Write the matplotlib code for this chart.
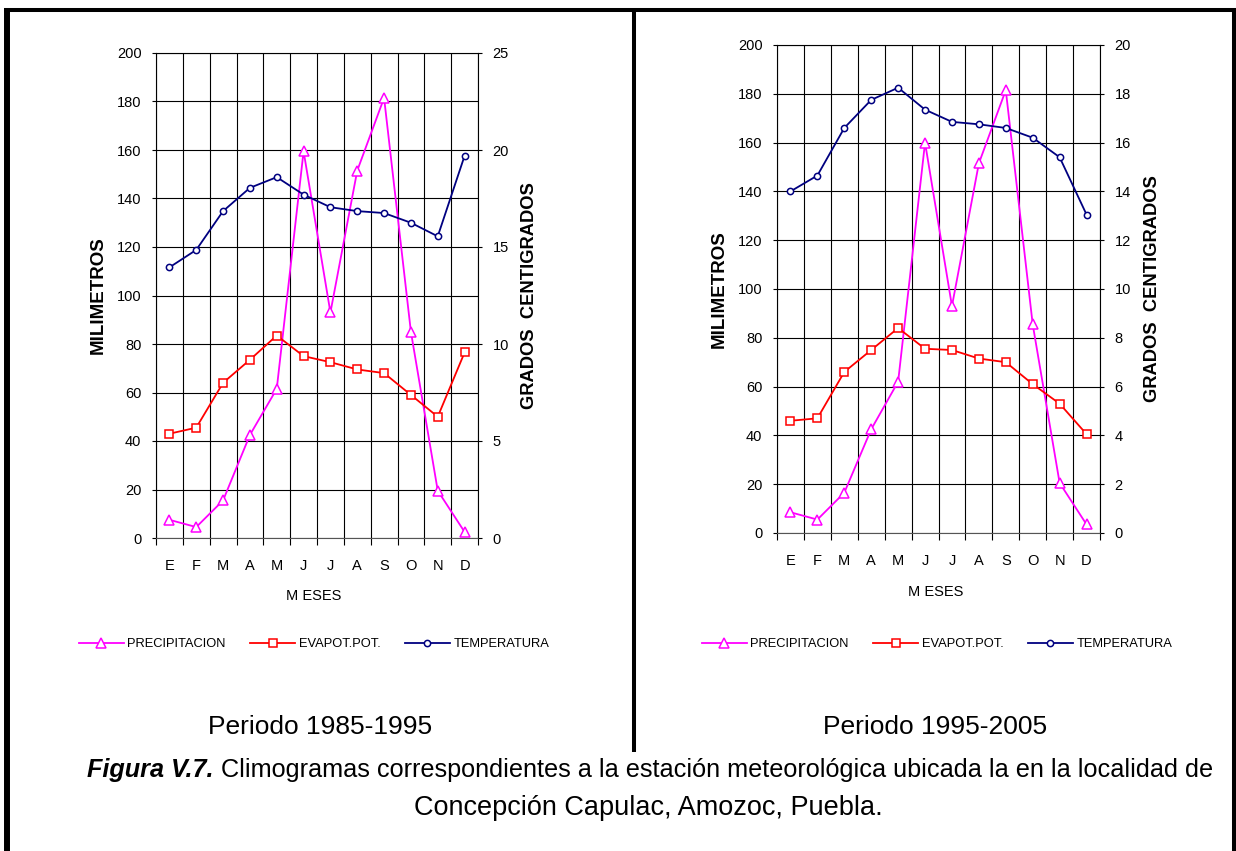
import matplotlib
matplotlib.use('Agg')
import matplotlib.pyplot as plt
from matplotlib.lines import Line2D
import numpy as np

plt.rcParams['font.family'] = ['Liberation Sans', 'DejaVu Sans']

# datos
meses = ['E', 'F', 'M', 'A', 'M', 'J', 'J', 'A', 'S', 'O', 'N', 'D']

# periodo 1985-1995
prec_1 = [7.5, 4.5, 15.5, 42.5, 61.5, 159.5, 93, 151.5, 181.5, 85, 19.5, 2.5]
evap_1 = [43, 45.5, 64, 73.5, 83.5, 75, 72.5, 69.5, 68, 59, 50, 76.5]
temp_1 = [13.95, 14.85, 16.85, 18.05, 18.6, 17.7, 17.05, 16.85, 16.75, 16.25, 15.55, 19.7]

# periodo 1995-2005
prec_2 = [8.5, 5.5, 16.5, 42.5, 62, 160, 93, 151.5, 181.5, 85.5, 20.5, 3.5]
evap_2 = [46, 47, 66, 75, 84, 75.5, 75, 71.5, 70, 61, 53, 40.5]
temp_2 = [14.0, 14.65, 16.6, 17.75, 18.25, 17.35, 16.85, 16.75, 16.6, 16.2, 15.4, 13.05]

series = ['PRECIPITACION', 'EVAPOT.POT.', 'TEMPERATURA']
colores = ['#FF00FF', '#FF0000', '#000080']

W, H = 1236, 851
fig = plt.figure(figsize=(W / 100, H / 100), dpi=100)


def climograma(rect, prec, evap, temp, tmax, tstep, leg_x):
    ax = fig.add_axes(rect)
    x = np.arange(len(meses))
    h1, = ax.plot(x, prec, color=colores[0], marker='^', ms=6.5, mfc='white', mew=1.1, lw=1.3, zorder=4)
    h2, = ax.plot(x, evap, color=colores[1], marker='s', ms=5.5, mfc='white', mew=1.1, lw=1.3, zorder=4)
    ax.set_xlim(-0.5, len(meses) - 0.5)
    ax.set_ylim(0, 200)
    ax.set_yticks(range(0, 201, 20))
    ax.set_xticks(x)
    ax.set_xticklabels(meses)
    ax.set_xticks(np.arange(-0.5, len(meses), 1), minor=True)
    ax.grid(True, which='minor', axis='x', color='k', lw=0.8)
    ax.grid(True, which='major', axis='y', color='k', lw=0.8)
    ax.tick_params(axis='x', which='major', length=0, pad=15, labelsize=10.5)
    ax.tick_params(axis='x', which='minor', length=5, direction='out', width=0.8)
    ax.tick_params(axis='y', length=3, direction='out', width=0.8, pad=7.5, labelsize=10.5)
    for s in ax.spines.values():
        s.set_linewidth(0.8)
    ax.spines['bottom'].set_color('#555555')
    ax.set_ylabel('MILIMETROS', fontsize=13.5, fontweight='bold', va='center')
    ax.yaxis.set_label_coords(-0.18, 0.5)
    ax.set_xlabel('M ESES', fontsize=10.5, va='center')
    ax.xaxis.set_label_coords(0.49, -0.12)

    ax2 = ax.twinx()
    h3, = ax2.plot(x, temp, color=colores[2], marker='o', ms=4.5, mfc='white', mew=1.1, lw=1.3, zorder=4)
    ax2.set_ylim(0, tmax)
    ax2.set_yticks(np.arange(0, tmax + 0.1, tstep))
    ax2.tick_params(axis='y', length=3, direction='out', width=0.8, pad=7.5, labelsize=10.5)
    for s in ax2.spines.values():
        s.set_visible(False)
    ax2.set_ylabel('GRADOS  CENTIGRADOS', fontsize=13.2, fontweight='bold', va='center', rotation=90)
    ax2.yaxis.set_label_coords(1.161, 0.5)

    fig.legend([h1, h2, h3], series, loc='center', bbox_to_anchor=(leg_x / W, 1 - 644 / H),
               ncol=3, frameon=False, fontsize=9.3, handlelength=3.5, handletextpad=0.25,
               columnspacing=1.9)
    return ax


climograma([156 / W, 1 - 538 / H, 322 / W, 485 / H], prec_1, evap_1, temp_1, 25, 5, 314)
climograma([777 / W, 1 - 533 / H, 323 / W, 488 / H], prec_2, evap_2, temp_2, 20, 2, 937)

fig.text(320 / W, 1 - 727 / H, 'Periodo 1985-1995', fontsize=19, ha='center', va='center')
fig.text(935 / W, 1 - 727 / H, 'Periodo 1995-2005', fontsize=19, ha='center', va='center')

# pie de figura
cx = 650
y1 = 1 - 770 / H
t_b = fig.text(0, y1, 'Figura V.7.', fontsize=18.2, fontweight='bold', fontstyle='italic', ha='left', va='center')
t_n = fig.text(0, y1, ' Climogramas correspondientes a la estación meteorológica ubicada la en la localidad de',
               fontsize=18.2, ha='left', va='center')
fig.canvas.draw()
r = fig.canvas.get_renderer()
wb = t_b.get_window_extent(r).width
wn = t_n.get_window_extent(r).width
x0 = cx - (wb + wn) / 2
t_b.set_x(x0 / W)
t_n.set_x((x0 + wb) / W)
fig.text(648 / W, 1 - 808 / H, 'Concepción Capulac, Amozoc, Puebla.', fontsize=19.5, ha='center', va='center')

# marco
def linea(xs, ys, lw):
    fig.add_artist(Line2D([v / W for v in xs], [1 - v / H for v in ys], color='k', lw=lw,
                          transform=fig.transFigure, solid_capstyle='butt'))

linea([7, 7], [8, 851], 4.3)
linea([4, 1236], [10, 10], 2.9)
linea([1234, 1234], [8, 851], 2.9)
linea([634, 634], [10, 752], 2.9)

fig.savefig('out.png', dpi=100)
